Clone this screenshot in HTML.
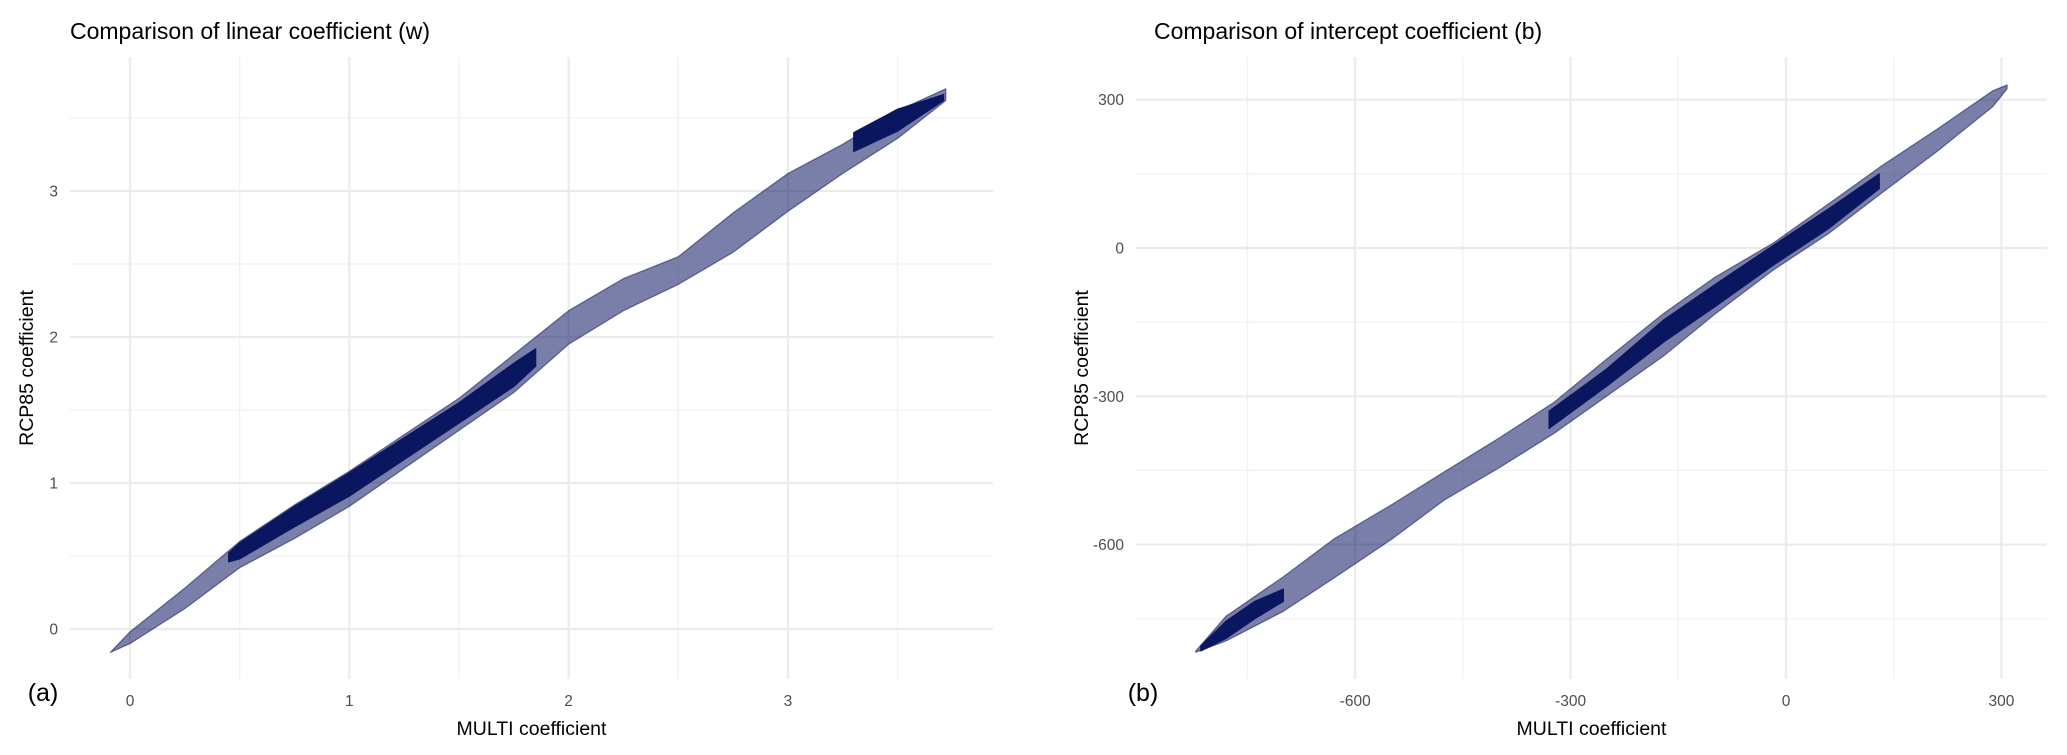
<!DOCTYPE html>
<html><head><meta charset="utf-8">
<style>
html,body{margin:0;padding:0;background:#fff;}
svg{display:block;font-family:"Liberation Sans",sans-serif;}
</style></head>
<body>
<svg id="chart" width="2067" height="755" viewBox="0 0 2067 755" xmlns="http://www.w3.org/2000/svg"></svg>
<script>
// ---- Panel (a) data: linear coefficient w ----
const aX      = [-0.09, 0.0, 0.25, 0.5, 0.75, 1.0, 1.25, 1.5, 1.75, 2.0, 2.25, 2.5, 2.75, 3.0, 3.25, 3.5, 3.72];
const aUpper  = [-0.16, -0.02, 0.28, 0.60, 0.85, 1.08, 1.33, 1.58, 1.88, 2.18, 2.40, 2.55, 2.85, 3.12, 3.32, 3.55, 3.70];
const aLower  = [-0.16, -0.10, 0.14, 0.42, 0.62, 0.84, 1.10, 1.36, 1.62, 1.95, 2.18, 2.36, 2.58, 2.86, 3.12, 3.36, 3.62];
const aCoreX  = [0.45, 0.5, 0.75, 1.0, 1.25, 1.5, 1.75, 1.85];
const aCoreU  = [0.52, 0.59, 0.84, 1.07, 1.31, 1.55, 1.82, 1.92];
const aCoreL  = [0.46, 0.48, 0.70, 0.91, 1.16, 1.41, 1.66, 1.80];
const aTopX   = [3.3, 3.5, 3.71];
const aTopU   = [3.40, 3.56, 3.66];
const aTopL   = [3.27, 3.41, 3.62];
const aTicks  = [0, 1, 2, 3];
const aTickLabels = ["0", "1", "2", "3"];
const aMinor  = [0.5, 1.5, 2.5, 3.5];

// ---- Panel (b) data: intercept coefficient b ----
const bX      = [-822, -780, -700, -629, -550, -476, -400, -323, -250, -170, -100, -18, 60, 135, 210, 288, 308];
const bUpper  = [-815, -745, -665, -588, -520, -453, -385, -312, -225, -132, -60, 10, 90, 168, 240, 318, 330];
const bLower  = [-818, -795, -735, -667, -590, -510, -445, -375, -300, -218, -135, -45, 30, 113, 195, 286, 322];
const bCoreX  = [-815, -780, -740, -700];
const bCoreU  = [-805, -755, -715, -690];
const bCoreL  = [-815, -790, -750, -715];
const bMidX   = [-330, -250, -170, -100, -18, 60, 130];
const bMidU   = [-330, -245, -145, -75, 5, 80, 150];
const bMidL   = [-365, -280, -190, -120, -35, 40, 120];
const bTicks  = [-600, -300, 0, 300];
const bTickLabels = ["-600", "-300", "0", "300"];
const bMinor  = [-750, -450, -150, 150];

const NS = "http://www.w3.org/2000/svg";
const svg = document.getElementById("chart");
function mk(tag, attrs, parent){
  const e = document.createElementNS(NS, tag);
  for (const k in attrs) e.setAttribute(k, attrs[k]);
  (parent||svg).appendChild(e);
  return e;
}
const NAVY = "#0b1660";

function panel(cfg){
  const g = mk("g", {});
  
  
  const sx = v => cfg.x0 + (v - cfg.xa) * cfg.kx;
  const sy = v => cfg.y0 - (v - cfg.ya) * cfg.ky;
  cfg.minor.forEach(v => {
    if (sx(v) >= cfg.left && sx(v) <= cfg.right) {
      const l1 = mk("line", {x1: sx(v), x2: sx(v), y1: cfg.top, y2: cfg.bottom, stroke: "#f1f1f1", "stroke-width": 1.3}, g);
      
      
    }
    if (sy(v) >= cfg.top && sy(v) <= cfg.bottom) {
      const l2 = mk("line", {x1: cfg.left, x2: cfg.right, y1: sy(v), y2: sy(v), stroke: "#f1f1f1", "stroke-width": 1.3}, g);
      
      
    }
  });
  cfg.ticks.forEach((v, i) => {
    const l1 = mk("line", {x1: sx(v), x2: sx(v), y1: cfg.top, y2: cfg.bottom, stroke: "#ebebeb", "stroke-width": 2.2}, g);
    
    
    const l2 = mk("line", {x1: cfg.left, x2: cfg.right, y1: sy(v), y2: sy(v), stroke: "#ebebeb", "stroke-width": 2.2}, g);
    
    
    const tx = mk("text", {x: sx(v), y: cfg.bottom + 27, "text-anchor": "middle", "font-size": 15.5, fill: "#4d4d4d"}, g);
    tx.textContent = cfg.labels[i];
    
    
    const ty = mk("text", {x: cfg.left - 12, y: sy(v) + 5.5, "text-anchor": "end", "font-size": 15.5, fill: "#4d4d4d"}, g);
    ty.textContent = cfg.labels[i];
    
    
  });
  function band(xs, up, lo, op, name){
    let d = "";
    xs.forEach((x, i) => { d += (i ? "L" : "M") + sx(x).toFixed(1) + "," + sy(up[i]).toFixed(1); });
    for (let i = xs.length - 1; i >= 0; i--) d += "L" + sx(xs[i]).toFixed(1) + "," + sy(lo[i]).toFixed(1);
    const p = mk("path", {d: d + "Z", fill: NAVY, "fill-opacity": op, stroke: NAVY, "stroke-opacity": op, "stroke-width": 1.2, "stroke-linejoin": "round"}, g);
    
    
  }
  band(cfg.bx, cfg.bu, cfg.bl, 0.55, 'scatter-envelope');
  cfg.cores.forEach(c => band(c[0], c[1], c[2], 1, 'scatter-dense-core'));
  const t = mk("text", {x: cfg.titleX, y: 39, "font-size": 23, fill: "#000"}, g);
  t.textContent = cfg.title;
  
  
  const xt = mk("text", {x: (cfg.left + cfg.right) / 2, y: 735, "text-anchor": "middle", "font-size": 19.5, fill: "#000"}, g);
  xt.textContent = "MULTI coefficient";
  
  
  const yc = (cfg.top + cfg.bottom) / 2;
  const yt = mk("text", {x: cfg.yTitleX, y: yc, "text-anchor": "middle", "font-size": 19.5, fill: "#000", transform: "rotate(-90 " + cfg.yTitleX + " " + yc + ")"}, g);
  yt.textContent = "RCP85 coefficient";
  
  
  const lab = mk("text", {x: cfg.tagX, y: 701, "text-anchor": "middle", "font-size": 25, fill: "#000"}, g);
  lab.textContent = cfg.tag;
  
  
}

panel({name: "panel-a-linear", x0: 130, xa: 0, kx: 219.3, y0: 629, ya: 0, ky: 146,
  left: 70, right: 993, top: 57, bottom: 679,
  ticks: aTicks, labels: aTickLabels, minor: aMinor,
  bx: aX, bu: aUpper, bl: aLower,
  cores: [[aCoreX, aCoreU, aCoreL], [aTopX, aTopU, aTopL]],
  title: "Comparison of linear coefficient (w)", titleX: 70, yTitleX: 33, tagX: 43, tag: "(a)"});

panel({name: "panel-b-intercept", x0: 1786, xa: 0, kx: 0.718, y0: 248, ya: 0, ky: 0.4943,
  left: 1136, right: 2047, top: 57, bottom: 679,
  ticks: bTicks, labels: bTickLabels, minor: bMinor,
  bx: bX, bu: bUpper, bl: bLower,
  cores: [[bCoreX, bCoreU, bCoreL], [bMidX, bMidU, bMidL]],
  title: "Comparison of intercept coefficient (b)", titleX: 1154, yTitleX: 1088, tagX: 1143, tag: "(b)"});
</script>
</body></html>
